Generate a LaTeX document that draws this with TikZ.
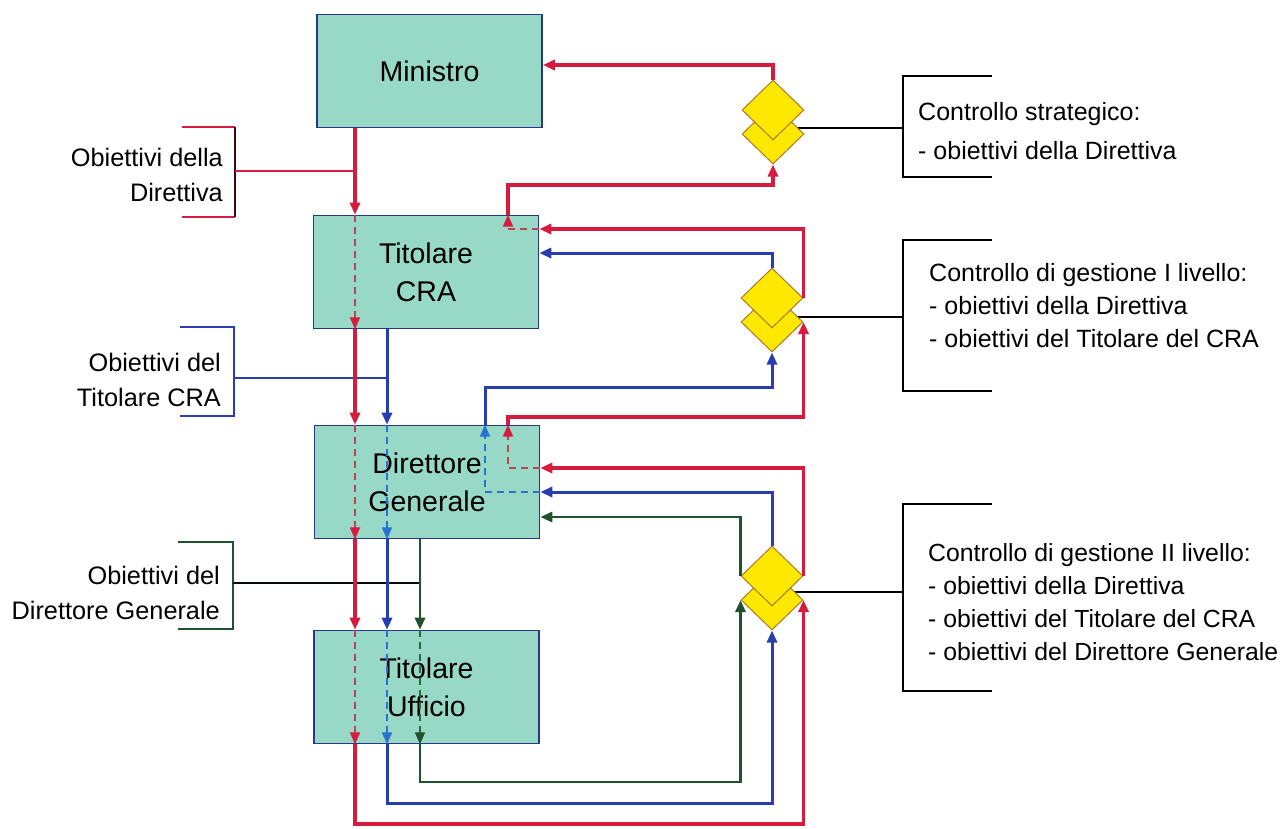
\documentclass[tikz,border=0pt]{standalone}
\usepackage{fontspec}
\setmainfont{Liberation Sans}
\usetikzlibrary{arrows.meta,shapes.geometric,calc}
\pgfdeclarelayer{background}
\pgfsetlayers{background,main}
\definecolor{boxfill}{RGB}{152,216,198}
\definecolor{boxline}{RGB}{40,55,130}
\definecolor{cred}{RGB}{214,28,62}
\definecolor{credd}{RGB}{185,70,85}
\definecolor{cblue}{RGB}{38,62,175}
\definecolor{cblued}{RGB}{40,115,210}
\definecolor{cgreen}{RGB}{32,82,48}
\definecolor{cgreend}{RGB}{40,105,60}
\definecolor{dfill}{RGB}{255,232,0}
\definecolor{dline}{RGB}{170,120,40}
\begin{document}
\begin{tikzpicture}[x=1pt,y=-1pt,
  box/.style={draw=boxline, line width=1.6pt, fill=boxfill, minimum width=225pt, minimum height=113pt, inner sep=0pt, align=center, font=\fontsize{28.5}{38}\selectfont},
  dia/.style={diamond, draw=dline, line width=1pt, fill=dfill, minimum width=62pt, minimum height=60pt, inner sep=0pt},
  tipA/.style={-{Triangle[length=12pt,width=10pt]}},
  redl/.style={draw=cred, line width=3.2pt, tipA},
  bluel/.style={draw=cblue, line width=3pt, tipA},
  greenl/.style={draw=cgreen, line width=2.9pt, tipA},
  reddash/.style={draw=credd, line width=1.8pt, dash pattern=on 7pt off 5pt, -{Triangle[length=12pt,width=10pt,color=cred]}},
  bluedash/.style={draw=cblued, line width=1.8pt, dash pattern=on 7pt off 5pt, -{Triangle[length=12pt,width=10pt,color=cblued]}},
  greendash/.style={draw=cgreend, line width=1.8pt, dash pattern=on 7pt off 5pt, -{Triangle[length=12pt,width=10pt,color=cgreen]}},
  brk/.style={line width=1.5pt},
  lab/.style={inner sep=0pt, font=\fontsize{25.3}{35}\selectfont},
]
\useasboundingbox (0,0) rectangle (1285,828);

% boxes
\node[box] (min) at (429.5,71) {Ministro};
\node[box] (cra) at (426,272) {Titolare\\CRA};
\node[box] (dg) at (427,482) {Direttore\\Generale};
\node[box] (uff) at (426.5,687) {Titolare\\Ufficio};

% diamonds
\node[dia] (d1l) at (773,134) {};
\node[dia] (d1u) at (773,110) {};
\node[dia] (d2l) at (772,322) {};
\node[dia] (d2u) at (772,298) {};
\node[dia] (d3l) at (772,600) {};
\node[dia] (d3u) at (772,576) {};

% columns and rows
\coordinate (cR) at (355,0);
\coordinate (cB) at (387,0);
\coordinate (cG) at (420,0);
\coordinate (cUR) at (508,0);
\coordinate (cUB) at (485,0);
\coordinate (yM) at (0,65);
\coordinate (yC1) at (0,229);
\coordinate (yC2) at (0,253);
\coordinate (yS1) at (0,185);
\coordinate (yD1) at (0,468);
\coordinate (yD2) at (0,492);
\coordinate (yD3) at (0,517);
\coordinate (yS2r) at (0,417);
\coordinate (yS2b) at (0,387);
\coordinate (yBg) at (0,782);
\coordinate (yBb) at (0,803);
\coordinate (yBr) at (0,824);

% left labels and brackets
\node[lab, anchor=east, align=right] (lt1) at (223,175) {Obiettivi della\\Direttiva};
\node[lab, anchor=east, align=right] (lt2) at (221,380) {Obiettivi del\\Titolare CRA};
\node[lab, anchor=east, align=right] (lt3) at (220,593) {Obiettivi del\\Direttore Generale};
\coordinate (b1) at (235,171);
\coordinate (b2) at (234,378);
\coordinate (b3) at (233,583);
\draw[brk, cred] (182,127) -- (235,127) (182,217) -- (235,217);
\draw[brk, black!70!cred] (235,127) -- (235,217);
\draw[brk, cblue] (180,327) -- (234,327) -- (234,416) -- (180,416);
\draw[brk, cgreen] (178,542) -- (233,542) -- (233,629) -- (178,629);
\draw[brk, cred] (b1) -- (b1 -| cR);
\draw[brk, cblue] (b2) -- (b2 -| cB);
\draw[brk, black!85!cgreen] (b3) -- (b3 -| cG);

% right labels and brackets
\node[lab, anchor=west, align=left, font=\fontsize{25}{39}\selectfont] (rt1) at (918,131) {Controllo strategico:\\- obiettivi della Direttiva};
\node[lab, anchor=west, align=left, font=\fontsize{25}{33}\selectfont] (rt2) at (929,306) {Controllo di gestione I livello:\\- obiettivi della Direttiva\\- obiettivi del Titolare del CRA};
\node[lab, anchor=west, align=left, font=\fontsize{24.8}{33}\selectfont] (rt3) at (928,602) {Controllo di gestione II livello:\\- obiettivi della Direttiva\\- obiettivi del Titolare del CRA\\- obiettivi del Direttore Generale};
\coordinate (t1) at (903,128);
\coordinate (t2) at (903,317);
\coordinate (t3) at (903,592);
\draw[brk] (992,76) -- (903,76) -- (903,177) -- (992,177);
\draw[brk] (992,240) -- (903,240) -- (903,391) -- (992,391);
\draw[brk] (992,504) -- (903,504) -- (903,691) -- (992,691);
\begin{pgfonlayer}{background}
\draw[brk] (d1l.center |- t1) -- (t1);
\draw[brk] (d2l.center |- t2) -- (t2);
\draw[brk] (d3l.center |- t3) -- (t3);
\end{pgfonlayer}

% red: Direttiva
\draw[redl] (min.south -| cR) -- (cra.north -| cR);
\draw[reddash] (cra.north -| cR) -- (cra.south -| cR);
\draw[redl] (cra.south -| cR) -- (dg.north -| cR);
\draw[reddash] (dg.north -| cR) -- (dg.south -| cR);
\draw[redl] (dg.south -| cR) -- (uff.north -| cR);
\draw[reddash] (uff.north -| cR) -- (uff.south -| cR);
\draw[redl] (uff.south -| cR) |- (d3l.east |- yBr) -- (d3l.east);
\draw[redl] (d3u.east) |- (dg.east |- yD1);
\draw[reddash] (dg.east |- yD1) -| (dg.north -| cUR);
\draw[redl] (dg.north -| cUR) |- (d2l.east |- yS2r) -- (d2l.east);
\draw[redl] (d2u.east) |- (cra.east |- yC1);
\draw[reddash] (cra.east |- yC1) -| (cra.north -| cUR);
\draw[redl] (cra.north -| cUR) |- (d1l.south |- yS1) -- (d1l.south);
\draw[redl] (d1u.north) |- (min.east |- yM);

% blue: Titolare CRA
\draw[bluel] (cra.south -| cB) -- (dg.north -| cB);
\draw[bluedash] (dg.north -| cB) -- (dg.south -| cB);
\draw[bluel] (dg.south -| cB) -- (uff.north -| cB);
\draw[bluedash] (uff.north -| cB) -- (uff.south -| cB);
\draw[bluel] (uff.south -| cB) |- (d3l.south |- yBb) -- (d3l.south);
\draw[bluel] (d3u.north) |- (dg.east |- yD2);
\draw[bluedash] (dg.east |- yD2) -| (dg.north -| cUB);
\draw[bluel] (dg.north -| cUB) |- (d2l.south |- yS2b) -- (d2l.south);
\draw[bluel] (d2u.north) |- (cra.east |- yC2);

% green: Direttore Generale
\draw[greenl] (dg.south -| cG) -- (uff.north -| cG);
\draw[greendash] (uff.north -| cG) -- (uff.south -| cG);
\draw[greenl] (uff.south -| cG) |- (d3l.west |- yBg) -- (d3l.west);
\draw[greenl] (d3u.west) |- (dg.east |- yD3);
\end{tikzpicture}
\end{document}
